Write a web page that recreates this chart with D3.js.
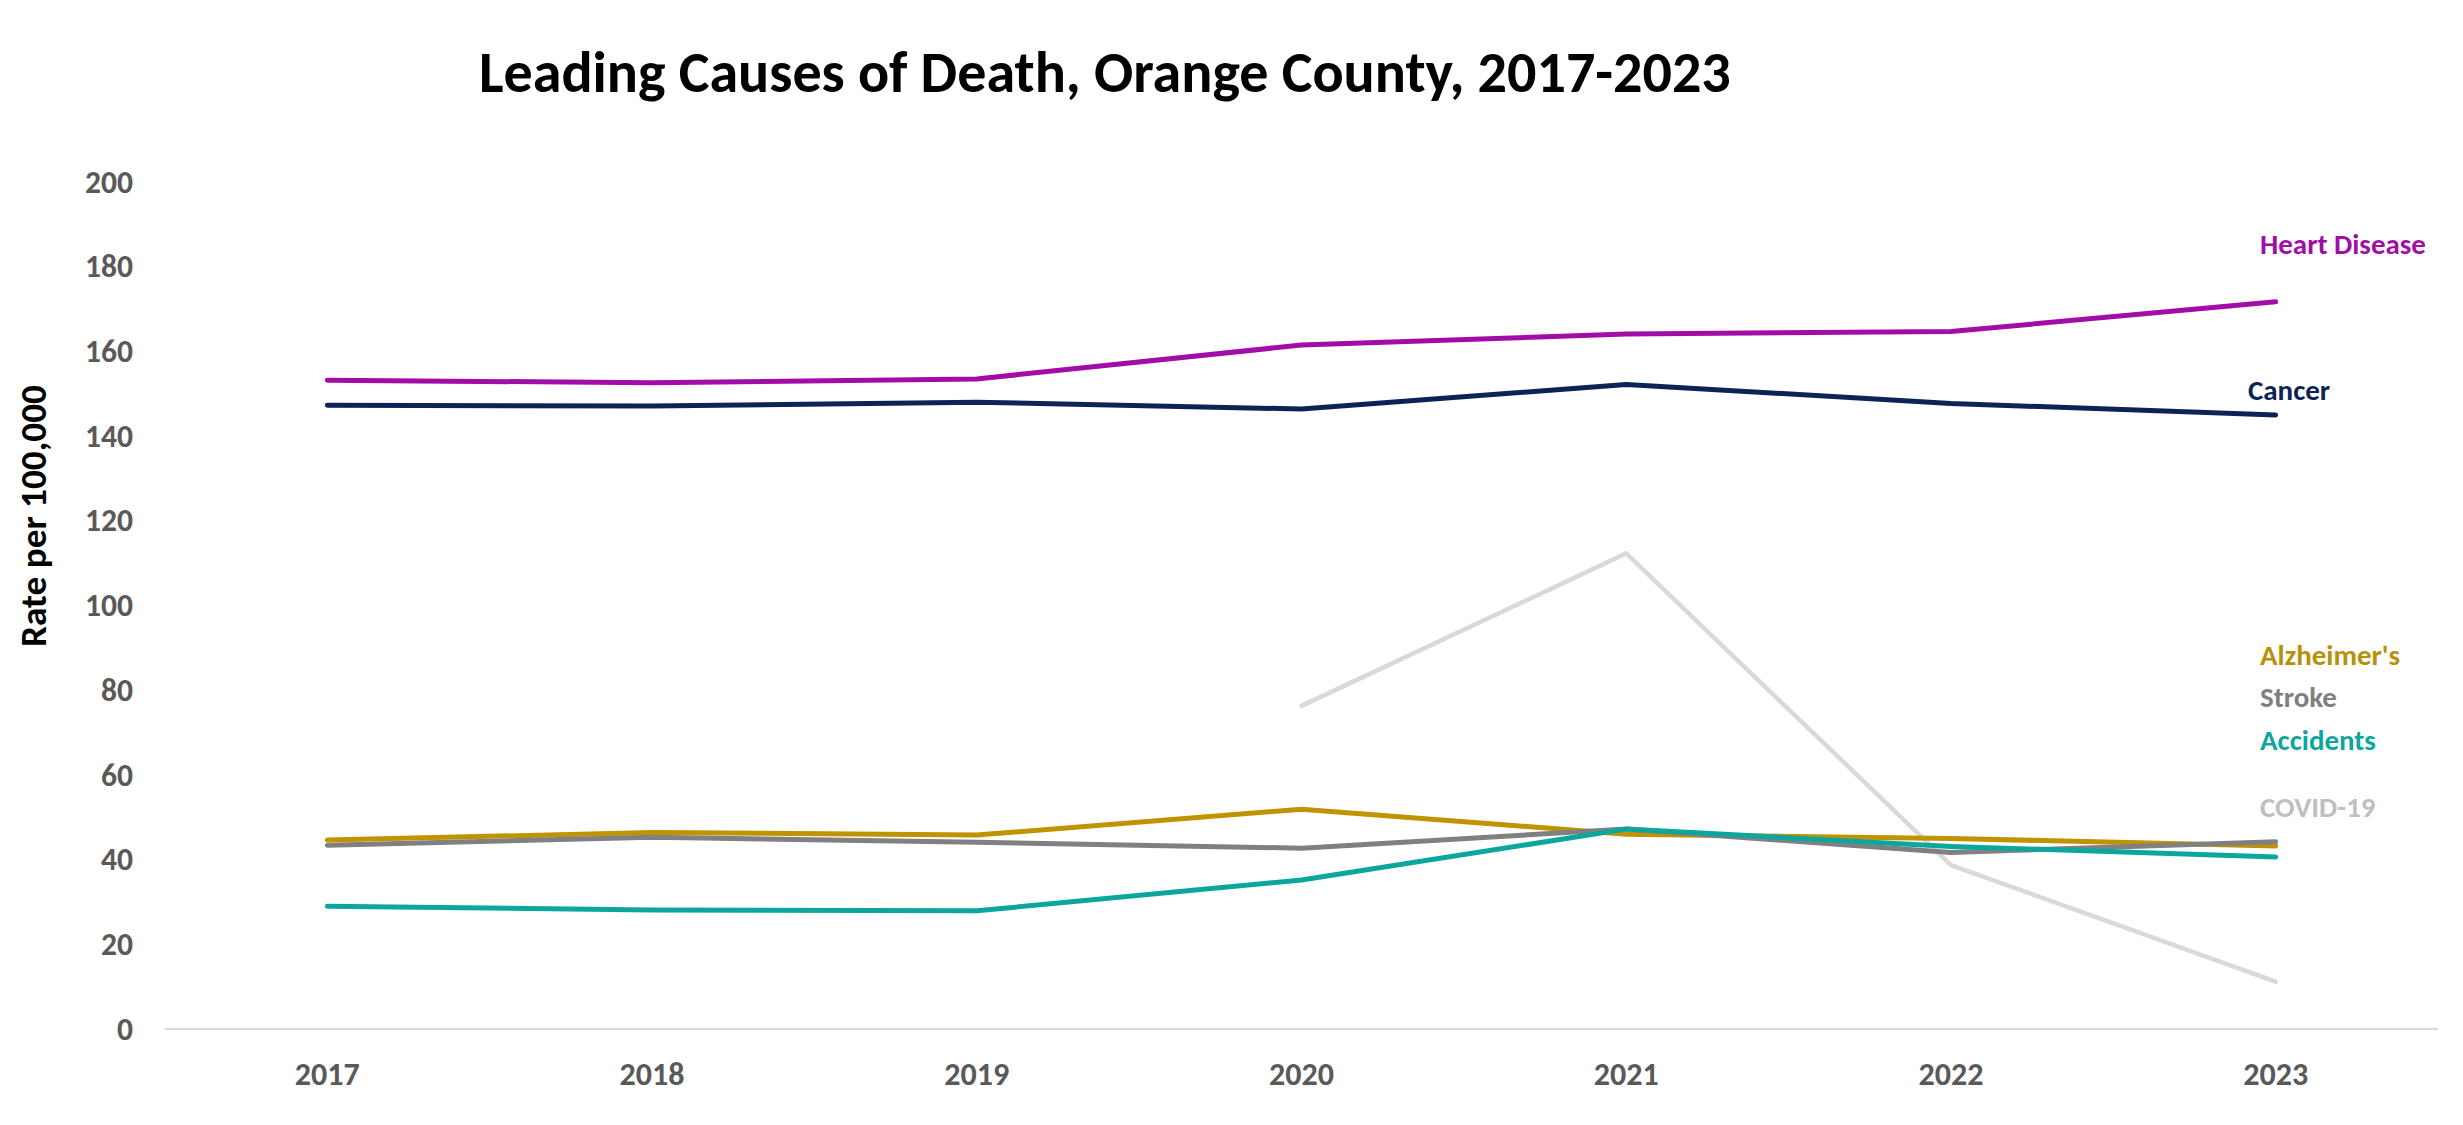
<!DOCTYPE html>
<html>
<head>
<meta charset="utf-8">
<script src="https://cdn.jsdelivr.net/npm/d3@7"></script>
<style>
  html, body { margin: 0; padding: 0; background: #ffffff; }
  svg { display: block; }
  text { font-family: Carlito, Calibri, Lato, "Open Sans", sans-serif; font-weight: bold; }
</style>
</head>
<body>
<svg id="chart" width="2463" height="1125"></svg>
<script>
// ---- data ----
const years = ["2017", "2018", "2019", "2020", "2021", "2022", "2023"];
const heartDisease = [153.2, 152.6, 153.5, 161.5, 164.1, 164.7, 171.7];
const cancer       = [147.3, 147.1, 148.0, 146.4, 152.2, 147.7, 145.0];
const alzheimers   = [44.6, 46.4, 45.8, 51.9, 46.0, 45.0, 43.2];
const stroke       = [43.4, 45.3, 44.1, 42.7, 47.2, 41.7, 44.2];
const accidents    = [29.0, 28.1, 27.9, 35.2, 47.2, 43.1, 40.6];
const covid19      = [null, null, null, 76.3, 112.3, 38.7, 11.2];
const yTicks = [0, 20, 40, 60, 80, 100, 120, 140, 160, 180, 200];
const titleText = "Leading Causes of Death, Orange County, 2017-2023";
const yAxisTitle = "Rate per 100,000";

const series = [
  { name: "Heart Disease", values: heartDisease, color: "#A10DA6", labelColor: "#A10DA6", width: 5 },
  { name: "Cancer",        values: cancer,       color: "#0D2256", labelColor: "#0D2256", width: 5 },
  { name: "Alzheimer's",   values: alzheimers,   color: "#C09300", labelColor: "#B8900A", width: 5 },
  { name: "Stroke",        values: stroke,       color: "#808080", labelColor: "#7F7F7F", width: 5 },
  { name: "Accidents",     values: accidents,    color: "#0DA69E", labelColor: "#0DA69E", width: 5 },
  { name: "COVID-19",      values: covid19,      color: "#D9D9D9", labelColor: "#BFBFBF", width: 4.5 }
];
// label anchor positions (left x, baseline y)
const labelPos = {
  "Heart Disease": [2260, 254],
  "Cancer":        [2248, 400],
  "Alzheimer's":   [2260, 665],
  "Stroke":        [2260, 707],
  "Accidents":     [2260, 750],
  "COVID-19":      [2260, 817]
};

const svg = d3.select("#chart");

const x = d3.scaleBand().domain(years).range([165, 2438]).padding(0);
const y = d3.scaleLinear().domain([0, 200]).range([1029, 182]);

function fitSize(sel, nominal, targetW) {
  sel.attr("font-size", nominal);
  const w = sel.node().getComputedTextLength();
  return w > 0 ? nominal * targetW / w : nominal;
}

// title
const title = svg.append("text")
  .attr("x", 479).attr("y", 92)
  .attr("fill", "#000000")
  .text(titleText);
title.attr("font-size", fitSize(title, 57, 1252));

// y axis title
const yt = svg.append("text")
  .attr("transform", "translate(46,516) rotate(-90)")
  .attr("text-anchor", "middle")
  .attr("fill", "#000000")
  .text(yAxisTitle);
yt.attr("font-size", fitSize(yt, 32, 262));

// x axis baseline
svg.append("line")
  .attr("x1", x.range()[0]).attr("x2", x.range()[1])
  .attr("y1", y(0)).attr("y2", y(0))
  .attr("stroke", "#D9D9D9").attr("stroke-width", 2);

// y tick labels via axis
const probe = svg.append("text").attr("font-size", 32).text("200");
const ySize = fitSize(probe, 32, 48);
const xProbe = probe.text("2017");
const xSize = fitSize(xProbe, 32, 65);
probe.remove();

const yAxis = svg.append("g")
  .attr("transform", "translate(165,0)")
  .call(d3.axisLeft(y).tickValues(yTicks).tickSize(0).tickPadding(32));
yAxis.select(".domain").remove();
yAxis.selectAll("text")
  .attr("font-size", ySize)
  .attr("fill", "#595959")
  .attr("font-family", null);

const xAxis = svg.append("g")
  .attr("transform", `translate(0,${y(0)})`)
  .call(d3.axisBottom(x).tickSize(0).tickPadding(33));
xAxis.select(".domain").remove();
xAxis.selectAll("text")
  .attr("font-size", xSize)
  .attr("fill", "#595959")
  .attr("font-family", null);

// lines
const line = d3.line()
  .defined(d => d.v !== null)
  .x(d => x(d.year) + x.bandwidth() / 2)
  .y(d => y(d.v));

const drawOrder = ["COVID-19", "Heart Disease", "Cancer", "Alzheimer's", "Stroke", "Accidents"];
drawOrder.forEach(n => {
  const s = series.find(d => d.name === n);
  svg.append("path")
    .datum(years.map((yr, i) => ({ year: yr, v: s.values[i] })))
    .attr("d", line)
    .attr("fill", "none")
    .attr("stroke", s.color)
    .attr("stroke-width", s.width)
    .attr("stroke-linecap", "round")
    .attr("stroke-linejoin", "round");
});

// series labels
const labelProbe = svg.append("text").attr("font-size", 29).text("Heart Disease");
const lSize = fitSize(labelProbe, 29, 166);
labelProbe.remove();
series.forEach(s => {
  svg.append("text")
    .attr("x", labelPos[s.name][0])
    .attr("y", labelPos[s.name][1])
    .attr("fill", s.labelColor)
    .attr("font-size", lSize)
    .text(s.name);
});
</script>
</body>
</html>
